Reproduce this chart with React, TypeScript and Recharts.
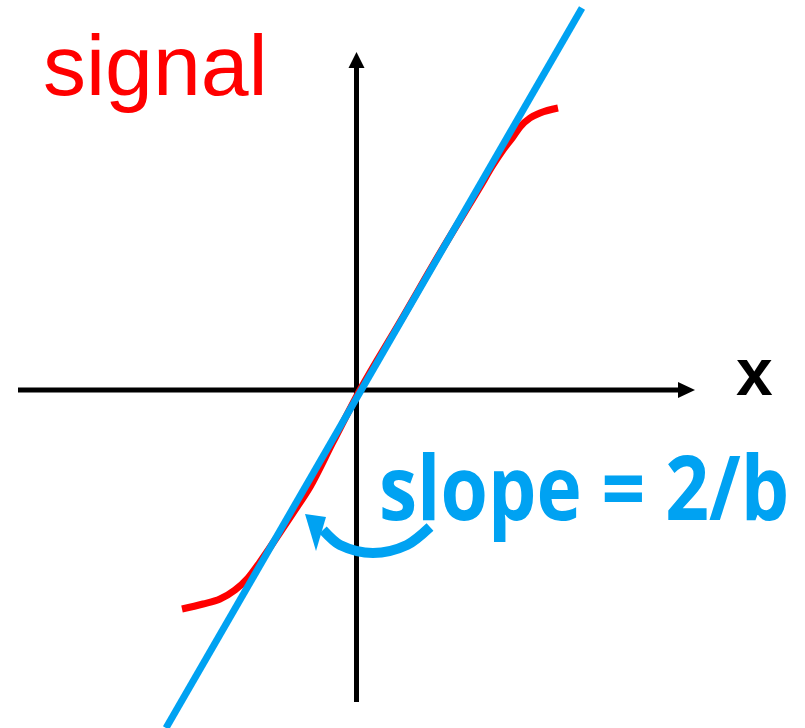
import React from "react";
import { ComposedChart, Line, Scatter, XAxis, YAxis, Customized } from "recharts";

// units: 1 = 100px, origin at the crossing of the two axes
const signalCurve = [
  { x: -1.78, y: -2.19 },
  { x: -1.57, y: -2.14 },
  { x: -1.4, y: -2.09 },
  { x: -1.25, y: -2.0 },
  { x: -1.12, y: -1.88 },
  { x: -1.0, y: -1.72 },
  { x: -0.83, y: -1.47 },
  { x: -0.67, y: -1.23 },
  { x: -0.5, y: -0.97 },
  { x: -0.27, y: -0.52 },
  { x: 0, y: 0 },
  { x: 0.4, y: 0.68 },
  { x: 0.8, y: 1.37 },
  { x: 1.2, y: 2.03 },
  { x: 1.33, y: 2.25 },
  { x: 1.43, y: 2.4 },
  { x: 1.53, y: 2.53 },
  { x: 1.6, y: 2.63 },
  { x: 1.7, y: 2.72 },
  { x: 1.8, y: 2.77 },
  { x: 1.98, y: 2.82 },
];

const slopeLine = [
  { x: -1.94, y: -3.38 },
  { x: 2.22, y: 3.82 },
];

const xAxisLine = [
  { x: -3.42, y: 0 },
  { x: 3.22, y: 0 },
];

const yAxisLine = [
  { x: -0.035, y: -3.12 },
  { x: -0.035, y: 3.22 },
];

const axisTips = [
  { x: 3.35, y: 0, dir: "right" },
  { x: -0.035, y: 3.38, dir: "up" },
];

const slopeArc = [
  { x: -0.37, y: -1.4 },
  { x: -0.2, y: -1.55 },
  { x: 0.13, y: -1.63 },
  { x: 0.47, y: -1.55 },
  { x: 0.7, y: -1.37 },
];

const arcTip = [{ x: -0.55, y: -1.24 }];

const BLUE = "#00A2F2";
const RED = "#FF0000";

const AxisHead = (props: any) => {
  const { cx, cy, payload } = props;
  if (payload.dir === "right") {
    return <polygon points={`${cx},${cy} ${cx - 17},${cy - 8} ${cx - 17},${cy + 8}`} fill="#000" />;
  }
  return <polygon points={`${cx},${cy} ${cx - 8},${cy + 16} ${cx + 8},${cy + 16}`} fill="#000" />;
};

const ArcHead = (props: any) => {
  const { cx, cy } = props;
  return <polygon points={`${cx},${cy} ${cx + 21},${cy + 3} ${cx + 11},${cy + 37}`} fill={BLUE} />;
};

const Labels = () => (
  <g>
    <text x={43} y={95} fill={RED} fontSize={86} fontFamily="'Liberation Sans', Arial, sans-serif">
      signal
    </text>
    <text x={736} y={395} fill="#000" fontSize={66} fontWeight="bold" fontFamily="'Liberation Sans', Arial, sans-serif">
      x
    </text>
    <g transform="translate(379,520) scale(0.86,1)">
      <text
        x={0}
        y={0}
        fill={BLUE}
        fontSize={90}
        fontWeight="bold"
        fontFamily="'Open Sans', sans-serif"
        textLength={477}
        lengthAdjust="spacingAndGlyphs"
      >
        slope = 2/b
      </text>
    </g>
  </g>
);

const common = { dataKey: "y", dot: false, activeDot: false, isAnimationActive: false } as const;

export default function App() {
  return (
    <div style={{ position: "absolute", left: 0, top: 0, background: "#fff" }}>
      <ComposedChart width={805} height={728} margin={{ top: 0, right: 0, bottom: 0, left: 0 }}>
        <XAxis type="number" dataKey="x" domain={[-3.6, 4.45]} allowDataOverflow hide />
        <YAxis type="number" dataKey="y" domain={[-3.38, 3.9]} allowDataOverflow hide width={0} />
        <Line {...common} data={xAxisLine} stroke="#000" strokeWidth={5} />
        <Line {...common} data={yAxisLine} stroke="#000" strokeWidth={5} />
        <Scatter data={axisTips} dataKey="y" shape={<AxisHead />} isAnimationActive={false} />
        <Line {...common} data={signalCurve} type="monotone" stroke={RED} strokeWidth={7} />
        <Line {...common} data={slopeLine} stroke={BLUE} strokeWidth={7} />
        <Line {...common} data={slopeArc} type="monotone" stroke={BLUE} strokeWidth={10} />
        <Scatter data={arcTip} dataKey="y" shape={<ArcHead />} isAnimationActive={false} />
        <Customized component={Labels} />
      </ComposedChart>
    </div>
  );
}
